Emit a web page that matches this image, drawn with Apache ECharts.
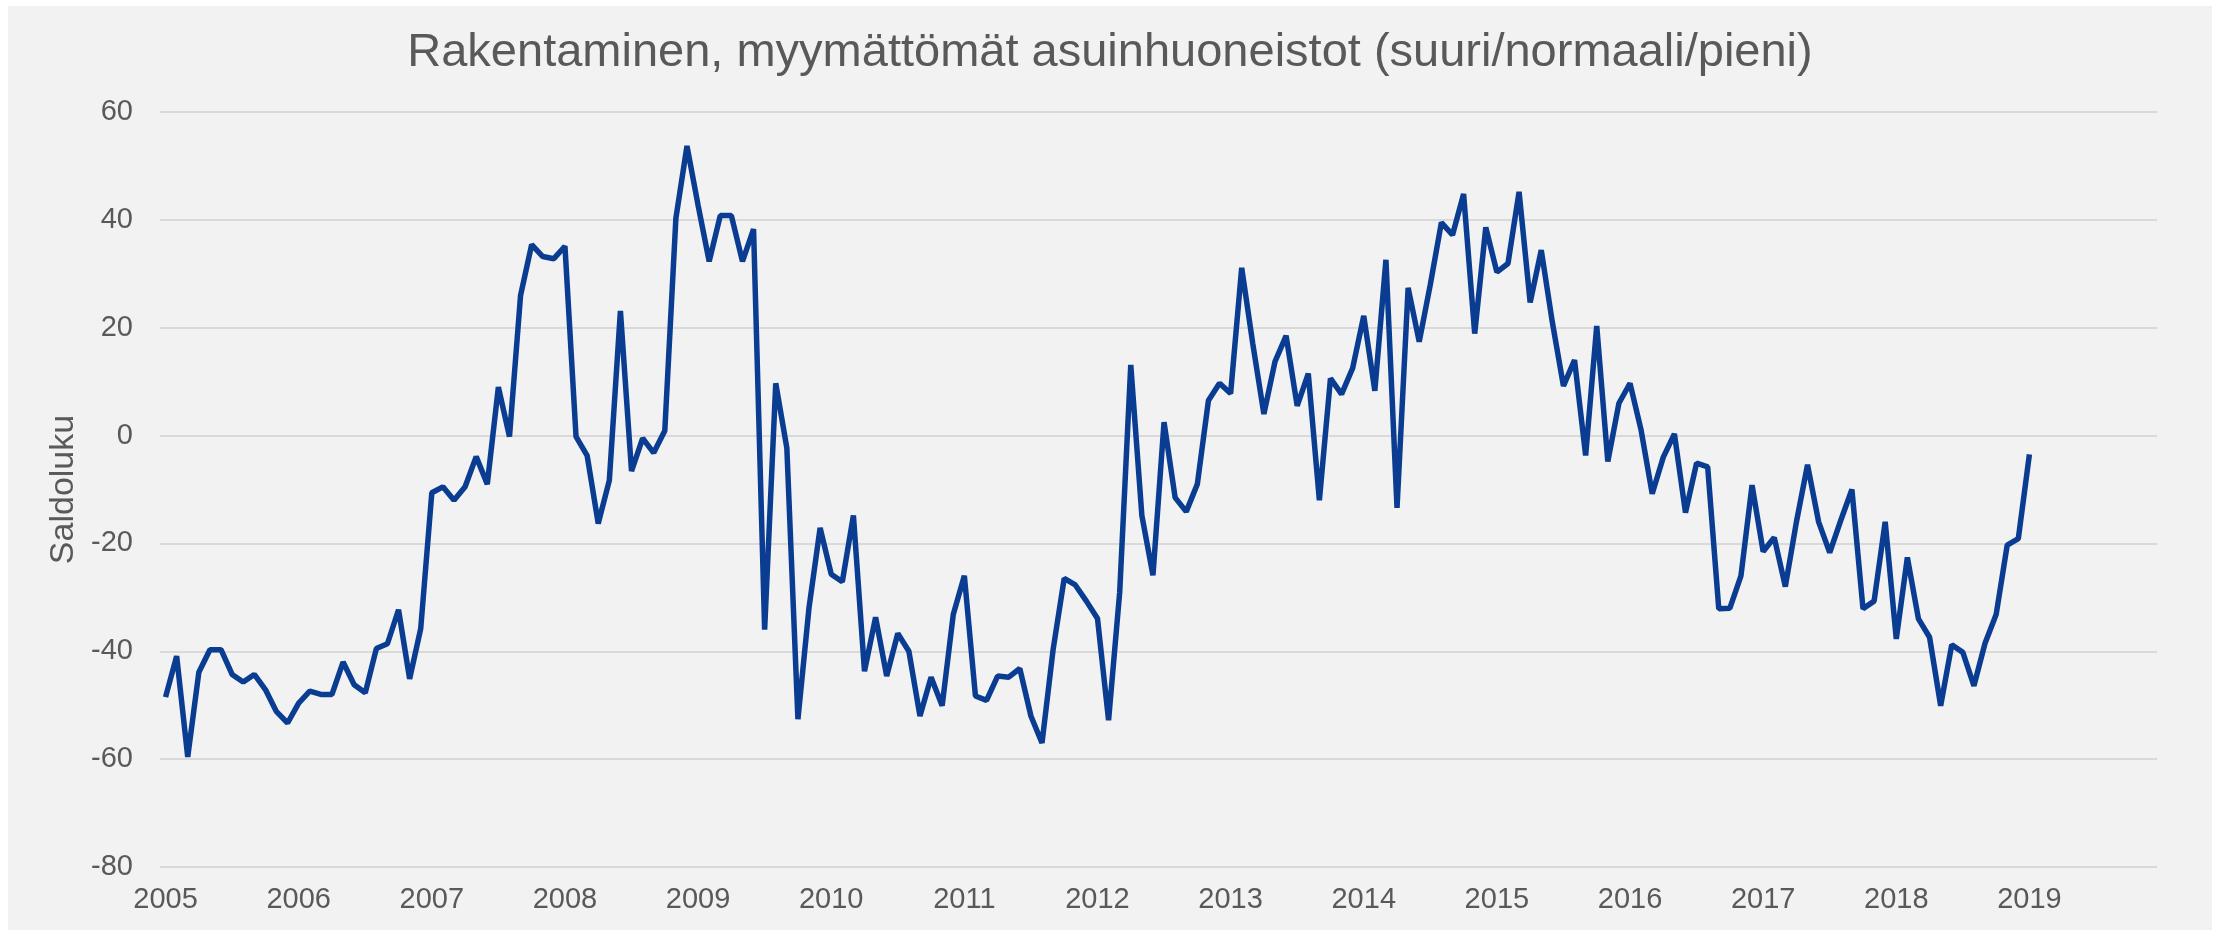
<!DOCTYPE html>
<html>
<head>
<meta charset="utf-8">
<script src="https://cdn.jsdelivr.net/npm/echarts@6/dist/echarts.min.js"></script>
<style>
	html, body { margin: 0; padding: 0; background: #ffffff; }
	#chart { position: absolute; left: 8px; top: 6px; width: 2204px; height: 924px; }
</style>
</head>
<body>
<div id="chart"></div>
<script>
// vuodet x-akselilla, kuukausittainen data 1/2005 - 1/2019
var years = [2005, 2006, 2007, 2008, 2009, 2010, 2011, 2012, 2013, 2014, 2015, 2016, 2017, 2018, 2019];

// saldoluvut vuosittain (tammi-joulu)
var v2005 = [-48.5, -40.9, -59.6, -43.9, -39.7, -39.7, -44.3, -45.7, -44.3, -47.1, -51.2, -53.3];
var v2006 = [-49.6, -47.4, -48, -48, -42, -46.2, -47.7, -39.5, -38.6, -32.3, -45.1, -35.8];
var v2007 = [-10.6, -9.5, -12, -9.5, -3.9, -9, 9, -0.2, 26, 35.4, 33.2, 32.8];
var v2008 = [35.1, -0.2, -3.7, -16.3, -8.3, 23.1, -6.6, -0.5, -3.2, 0.9, 40.3, 53.7];
var v2009 = [42.7, 32.3, 40.8, 40.8, 32.3, 38.3, -36, 9.7, -2.3, -52.6, -31.9, -17.1];
var v2010 = [-25.7, -27.1, -14.8, -43.7, -33.7, -44.6, -36.7, -40, -52, -44.8, -50.1, -33.2];
var v2011 = [-26, -48.3, -49.1, -44.6, -44.8, -43.2, -52, -57, -39.7, -26.5, -27.7, -30.7];
var v2012 = [-33.9, -52.8, -29.1, 13.1, -14.8, -25.9, 2.5, -11.5, -14.1, -9, 6.5, 9.7];
var v2013 = [7.8, 31.1, 17, 4, 13.7, 18.5, 5.5, 11.5, -12, 10.6, 7.7, 12.5];
var v2014 = [22.2, 8.3, 32.6, -13.4, 27.4, 17.4, 28, 39.5, 37.2, 44.8, 18.9, 38.6];
var v2015 = [30.3, 31.9, 45.2, 24.7, 34.4, 21, 9.2, 14, -3.7, 20.3, -4.8, 6];
var v2016 = [9.7, 1, -10.8, -4, 0.3, -14.3, -5.1, -5.8, -32.1, -32, -26, -9.2];
var v2017 = [-21.5, -18.9, -28, -16, -5.4, -16, -21.7, -15.7, -10, -32.1, -30.7, -16];
var v2018 = [-37.7, -22.6, -34, -37.4, -50.1, -38.8, -40.2, -46.4, -38.5, -33.2, -20.3, -19.1];
var v2019 = [-3.5];

// y-akselin asteikko
var yMin = -80, yMax = 60, yStep = 20;

var months = [];
for (var i = 0; i < years.length; i++) {
	for (var m = 1; m <= 12; m++) {
		months.push(years[i] + '-' + (m < 10 ? '0' + m : m));
	}
}
var values = [].concat(v2005, v2006, v2007, v2008, v2009, v2010, v2011, v2012,
	v2013, v2014, v2015, v2016, v2017, v2018, v2019);

var fontFamily = '"Liberation Sans", Arial, sans-serif';
var textColor = '#595959';

var myChart = echarts.init(document.getElementById('chart'));
var option = {
	backgroundColor: '#f2f2f2',
	animation: false,
	title: {
		text: 'Rakentaminen, myymättömät asuinhuoneistot (suuri/normaali/pieni)',
		left: 'center',
		top: 19,
		textStyle: {
			color: textColor,
			fontFamily: fontFamily,
			fontWeight: 'normal',
			fontSize: 47
		}
	},
	grid: {
		left: 152,
		right: 55,
		top: 106,
		bottom: 63
	},
	xAxis: {
		type: 'category',
		data: months,
		boundaryGap: true,
		axisLine: { show: false },
		axisTick: { show: false },
		axisLabel: {
			interval: function(index) {
				return index % 12 === 0;
			},
			formatter: function(value) {
				return value.substring(0, 4);
			},
			color: textColor,
			fontFamily: fontFamily,
			fontSize: 29,
			margin: 18
		},
		splitLine: { show: false }
	},
	yAxis: {
		type: 'value',
		min: yMin,
		max: yMax,
		interval: yStep,
		name: 'Saldoluku',
		nameLocation: 'middle',
		nameGap: 58,
		nameRotate: 90,
		nameTextStyle: {
			color: textColor,
			fontFamily: fontFamily,
			fontSize: 34
		},
		axisLine: { show: false },
		axisTick: { show: false },
		axisLabel: {
			color: textColor,
			fontFamily: fontFamily,
			fontSize: 29,
			margin: 27
		},
		splitLine: {
			lineStyle: { color: '#d9d9d9', width: 2 }
		}
	},
	series: [{
		type: 'line',
		data: values,
		showSymbol: false,
		smooth: false,
		lineStyle: {
			color: '#0a3d91',
			width: 5.5
		}
	}]
};
myChart.setOption(option);
</script>
</body>
</html>
